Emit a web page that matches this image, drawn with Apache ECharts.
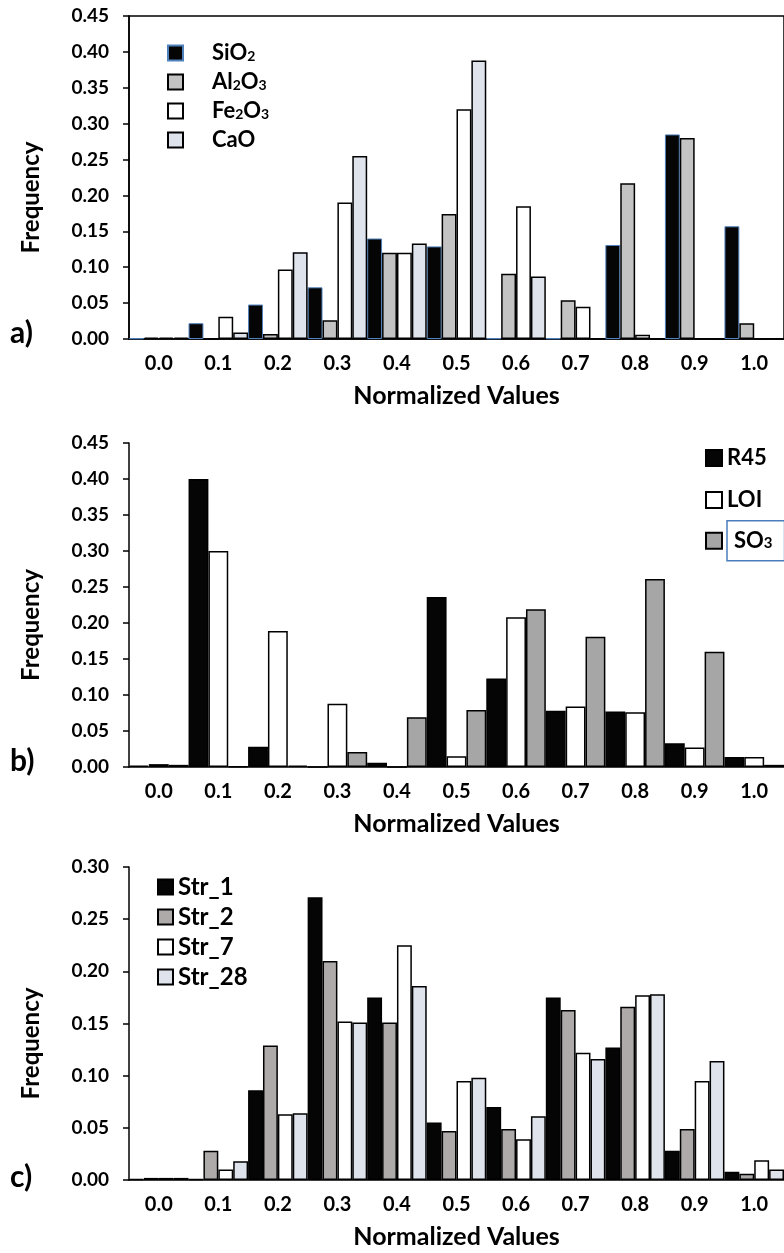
<!DOCTYPE html>
<html><head><meta charset="utf-8">
<script src="https://cdn.jsdelivr.net/npm/echarts@6/dist/echarts.min.js"></script>
<style>html,body{margin:0;padding:0;background:#fff}#c{width:784px;height:1253px}</style>
</head><body><div id="c"></div>
<script>
// ---- data ----
const categories = ['0.0','0.1','0.2','0.3','0.4','0.5','0.6','0.7','0.8','0.9','1.0'];
// panel a
const sio2  = [0.001,0.022,0.048,0.072,0.140,0.129,0.001,0.001,0.131,0.285,0.157];
const al2o3 = [0.002,0.000,0.007,0.026,0.120,0.174,0.091,0.054,0.217,0.280,0.022];
const fe2o3 = [0.002,0.031,0.097,0.190,0.120,0.320,0.185,0.045,0.006,0.001,0.000];
const cao   = [0.002,0.009,0.121,0.255,0.133,0.388,0.087,0.001,0.000,0.000,0.001];
// panel b
const r45   = [0.002,0.400,0.028,0.000,0.006,0.236,0.123,0.078,0.077,0.033,0.014];
const loi   = [0.004,0.300,0.189,0.088,0.000,0.015,0.208,0.084,0.076,0.027,0.014];
const so3   = [0.003,0.001,0.002,0.021,0.069,0.079,0.219,0.181,0.261,0.160,0.003];
// panel c
const str1  = [0.001,0.001,0.086,0.271,0.175,0.055,0.070,0.175,0.127,0.028,0.008];
const str2  = [0.002,0.028,0.129,0.210,0.151,0.047,0.049,0.163,0.166,0.049,0.006];
const str7  = [0.002,0.010,0.063,0.152,0.225,0.095,0.039,0.122,0.177,0.095,0.019];
const str28 = [0.002,0.018,0.064,0.151,0.186,0.098,0.061,0.116,0.178,0.114,0.010];
// axis ranges
const yMaxA = 0.45, yMaxB = 0.45, yMaxC = 0.30, yStep = 0.05;
const panelLabels = ['a)','b)','c)'];
const xTitle = 'Normalized Values';
const yTitle = 'Frequency';

// ---- chart ----
const FF = 'Lato, "Open Sans", sans-serif';
const chart = echarts.init(document.getElementById('c'), null, {renderer:'canvas'});
const grids = [
  {left:129, top:16,  width:664, height:323, show:true, borderColor:'#000', borderWidth:1.5, backgroundColor:'transparent'},
  {left:129, top:443, width:664, height:324},
  {left:129, top:867, width:664, height:313}
];
function xAx(i){
  return {type:'category', gridIndex:i, data:categories,
    axisLine:{lineStyle:{color:'#000', width:1.5}},
    axisTick:{length:6, lineStyle:{color:'#000', width:1.5}},
    axisLabel:{color:'#000', fontWeight:'bold', fontSize:20, margin:15, fontFamily:FF},
    name:xTitle, nameLocation:'middle', nameGap:44,
    nameTextStyle:{color:'#000', fontWeight:'bold', fontSize:25, fontFamily:FF}};
}
function yAx(i, max, fs){
  return {type:'value', gridIndex:i, min:0, max:max, interval:yStep,
    axisLine:{show:true, lineStyle:{color:'#000', width:1.5}},
    axisTick:{show:true, length:6, lineStyle:{color:'#000', width:1.5}},
    splitLine:{show:false},
    axisLabel:{color:'#000', fontWeight:'bold', fontSize:fs, margin:20, fontFamily:FF,
      formatter:v=>v.toFixed(2)},
    name:yTitle, nameLocation:'middle', nameGap:86, nameRotate:90,
    nameTextStyle:{color:'#000', fontWeight:'bold', fontSize:24, fontFamily:FF, padding:[0,40,0,0]}};
}
function bar(name, data, gi, color, border, bw){
  return {name:name, type:'bar', xAxisIndex:gi, yAxisIndex:gi, data:data,
    barGap:'0%', barCategoryGap:'0%',
    itemStyle:{color:color, borderColor:border, borderWidth:bw}};
}
function richName(name){
  return name.replace(/([A-Za-z]+)(\d?)/g, (m,a,d)=>'{n|'+a+'}'+(d?'{s|'+d+'}':''));
}
const richA = {n:{fontSize:22, fontWeight:'bold', fontFamily:FF, color:'#000', lineHeight:20},
               s:{fontSize:14, fontWeight:'bold', fontFamily:FF, color:'#000', lineHeight:20, verticalAlign:'bottom'}};
const richB = {n:{fontSize:22, fontWeight:'bold', fontFamily:FF, color:'#000', lineHeight:20},
               s:{fontSize:15, fontWeight:'bold', fontFamily:FF, color:'#000', lineHeight:20, verticalAlign:'bottom'}};

const option = {
  animation:false,
  backgroundColor:'#fff',
  textStyle:{fontFamily:FF},
  title: panelLabels.map((t,i)=>({text:t, left:10, top:[318,746,1162][i], padding:0,
    textStyle:{fontSize:30, fontWeight:'bold', color:'#000', fontFamily:FF}})),
  grid: grids,
  xAxis:[xAx(0), xAx(1), xAx(2)],
  yAxis:[yAx(0,yMaxA,19), yAx(1,yMaxB,19), yAx(2,yMaxC,19)],
  legend:[
    {data:['SiO2','Al2O3','Fe2O3','CaO'], orient:'vertical', left:162, top:37,
     icon:'rect', itemWidth:15, itemHeight:15, itemGap:7,
     formatter:richName, textStyle:{rich:richA, padding:[0,0,0,24]}},
    {data:['R45','LOI'], orient:'vertical', left:700, top:442,
     icon:'rect', itemWidth:16, itemHeight:16, itemGap:20,
     textStyle:{fontSize:22, fontWeight:'bold', color:'#000', fontFamily:FF, lineHeight:16}},
    {data:[{name:'SO3', textStyle:{borderColor:'#4a7ebb', borderWidth:1.5, padding:[10,12,10,7]}}],
     orient:'vertical', left:700, top:515,
     icon:'rect', itemWidth:16, itemHeight:16,
     formatter:richName, textStyle:{rich:richB}},
    {data:['Str_1','Str_2','Str_7','Str_28'], orient:'vertical', left:152, top:870,
     icon:'rect', itemWidth:15, itemHeight:15, itemGap:6,
     textStyle:{fontSize:24, fontWeight:'bold', color:'#000', fontFamily:FF, lineHeight:22}}
  ],
  series:[
    bar('SiO2', sio2, 0, '#050505', '#4f81bd', 1),
    bar('Al2O3', al2o3, 0, '#c3c3c3', '#000', 1.5),
    bar('Fe2O3', fe2o3, 0, '#ffffff', '#000', 1.5),
    bar('CaO', cao, 0, '#dfe4ec', '#000', 1.5),
    bar('R45', r45, 1, '#050505', '#000', 1.5),
    bar('LOI', loi, 1, '#ffffff', '#000', 1.5),
    bar('SO3', so3, 1, '#a6a6a6', '#000', 1.5),
    bar('Str_1', str1, 2, '#050505', '#000', 1.5),
    bar('Str_2', str2, 2, '#aeaaaa', '#000', 1.5),
    bar('Str_7', str7, 2, '#ffffff', '#000', 1.5),
    bar('Str_28', str28, 2, '#dfe4ec', '#000', 1.5)
  ]
};
chart.setOption(option);
</script></body></html>
